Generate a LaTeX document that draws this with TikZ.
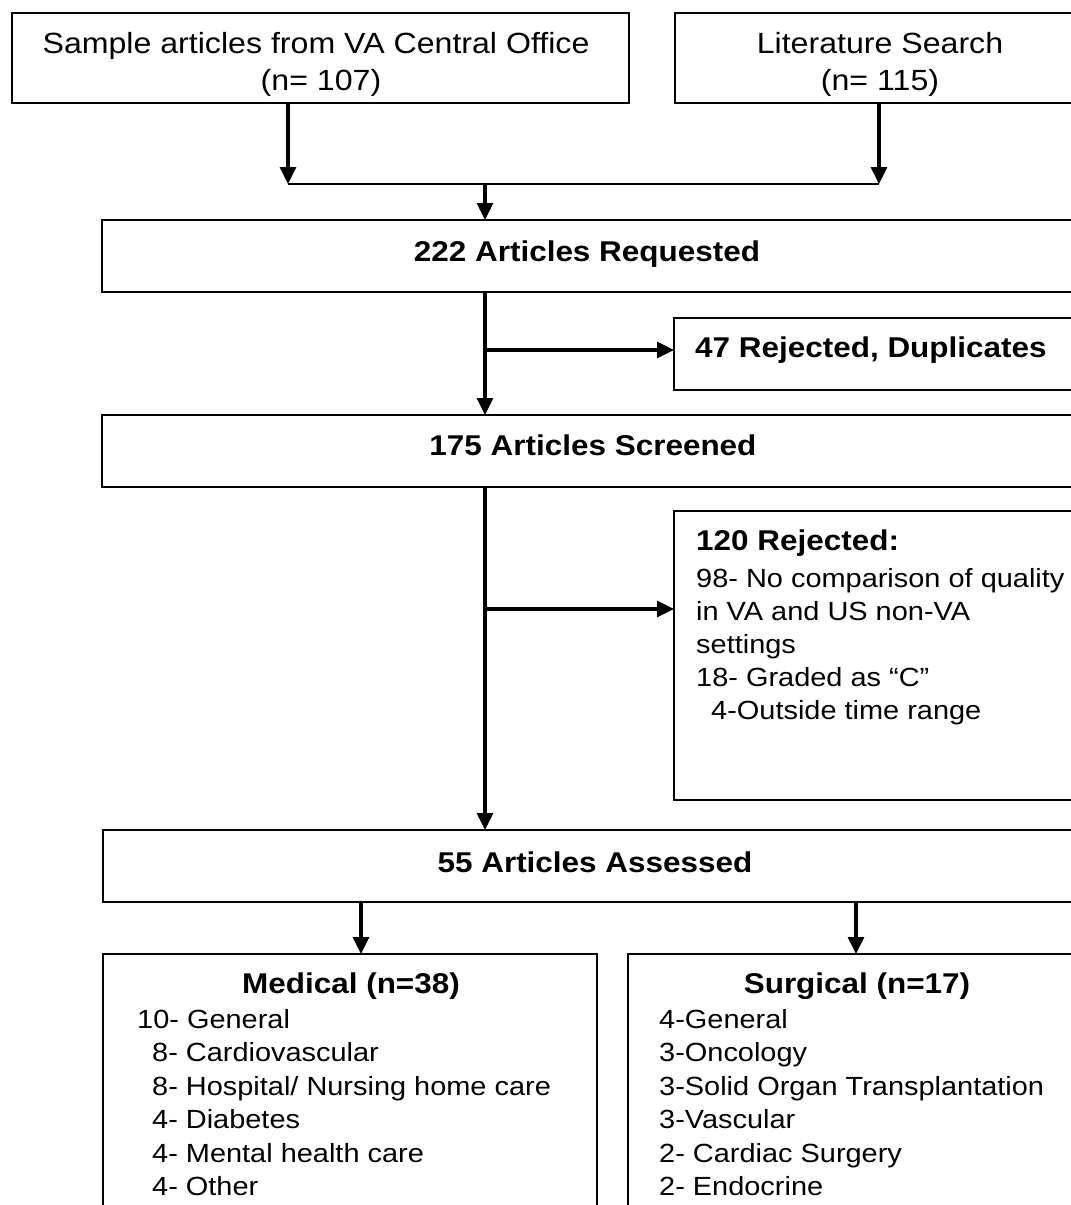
\documentclass[tikz,border=0pt]{standalone}
\usepackage{fontspec}
\setmainfont{Liberation Sans}[FakeStretch=1.1]
\usetikzlibrary{arrows.meta}
\tikzset{
  box/.style={draw, line width=2pt, rectangle, inner sep=0pt, outer sep=0pt, anchor=north west},
  arr/.style={line width=3.3pt, -{Triangle[length=17pt,width=16pt]}},
  conn/.style={line width=2.2pt},
  ttop/.style={inner sep=0pt, anchor=base, font=\fontsize{29.2}{33}\selectfont},
  ttitle/.style={inner sep=0pt, anchor=base, font=\fontsize{28.6}{33}\selectfont\bfseries},
  titem/.style={inner sep=0pt, anchor=base west, font=\fontsize{26.3}{33}\selectfont},
}
\begin{document}
\begin{tikzpicture}[x=1pt, y=-1pt]
\useasboundingbox (0,0) rectangle (1071,1205);
\clip (0,0) rectangle (1071,1205);
% boxes
\node[box, minimum width=617pt, minimum height=90pt] (A) at (12,13) {};
\node[box, minimum width=420pt, minimum height=90pt] (B) at (675,13) {};
\node[box, minimum width=990pt, minimum height=72pt] (C) at (102,220) {};
\node[box, minimum width=420pt, minimum height=72pt] (E) at (674,318) {};
\node[box, minimum width=990pt, minimum height=72pt] (D) at (102,415) {};
\node[box, minimum width=420pt, minimum height=289pt] (F) at (674,511) {};
\node[box, minimum width=990pt, minimum height=72pt] (G) at (103,830) {};
\node[box, minimum width=494pt, minimum height=280pt] (H) at (103,954) {};
\node[box, minimum width=470pt, minimum height=280pt] (I) at (628,954) {};
% texts
\node[ttop] (a1) at (316,53) {Sample articles from VA Central Office};
\node[ttop] (a2) at (321,90) {(n= 107)};
\node[ttop] (b1) at (880,53) {Literature Search};
\node[ttop] (b2) at (880,90) {(n= 115)};
\node[ttitle] (c1) at (587,261) {222 Articles Requested};
\node[ttitle, anchor=base west] (e1) at (695,357) {47 Rejected, Duplicates};
\node[ttitle] (d1) at (593,455) {175 Articles Screened};
\node[ttitle, anchor=base west] (f0) at (696,550) {120 Rejected:};
\node[titem] (f1) at (696,587) {98- No comparison of quality};
\node[titem] (f2) at (696,620) {in VA and US non-VA};
\node[titem] (f3) at (696,653) {settings};
\node[titem] (f4) at (696,686) {18- Graded as “C”};
\node[titem] (f5) at (711,719) {4-Outside time range};
\node[ttitle] (g1) at (595,872) {55 Articles Assessed};
\node[ttitle] (h0) at (351,993) {Medical (n=38)};
\node[titem] (h1) at (137,1028) {10- General};
\node[titem] (h2) at (152,1061.5) {8- Cardiovascular};
\node[titem] (h3) at (152,1095) {8- Hospital/ Nursing home care};
\node[titem] (h4) at (152,1128.5) {4- Diabetes};
\node[titem] (h5) at (152,1162) {4- Mental health care};
\node[titem] (h6) at (152,1195.5) {4- Other};
\node[ttitle] (i0) at (857,993) {Surgical (n=17)};
\node[titem] (i1) at (659,1028) {4-General};
\node[titem] (i2) at (659,1061.5) {3-Oncology};
\node[titem] (i3) at (659,1095) {3-Solid Organ Transplantation};
\node[titem] (i4) at (659,1128.5) {3-Vascular};
\node[titem] (i5) at (659,1162) {2- Cardiac Surgery};
\node[titem] (i6) at (659,1195.5) {2- Endocrine};
% connectors
\coordinate (jL) at (288,184);
\coordinate (jR) at (879,184);
\coordinate (jM) at (485,184);
\draw[arr] (A.south -| jL) -- (jL);
\draw[arr] (B.south -| jR) -- (jR);
\draw[conn] (jL) -- (jR);
\draw[arr] (jM) -- (C.north -| jM);
\coordinate (s1) at (485,350);
\draw[arr] (C.south -| s1) -- (D.north -| s1);
\draw[arr] (s1) -- (E.west |- s1);
\coordinate (s2) at (485,609);
\draw[arr] (D.south -| s2) -- (G.north -| s2);
\draw[arr] (s2) -- (F.west |- s2);
\coordinate (mx) at (361,930);
\coordinate (sx) at (856,930);
\draw[arr] (G.south -| mx) -- (H.north -| mx);
\draw[arr] (G.south -| sx) -- (I.north -| sx);
\end{tikzpicture}
\end{document}
